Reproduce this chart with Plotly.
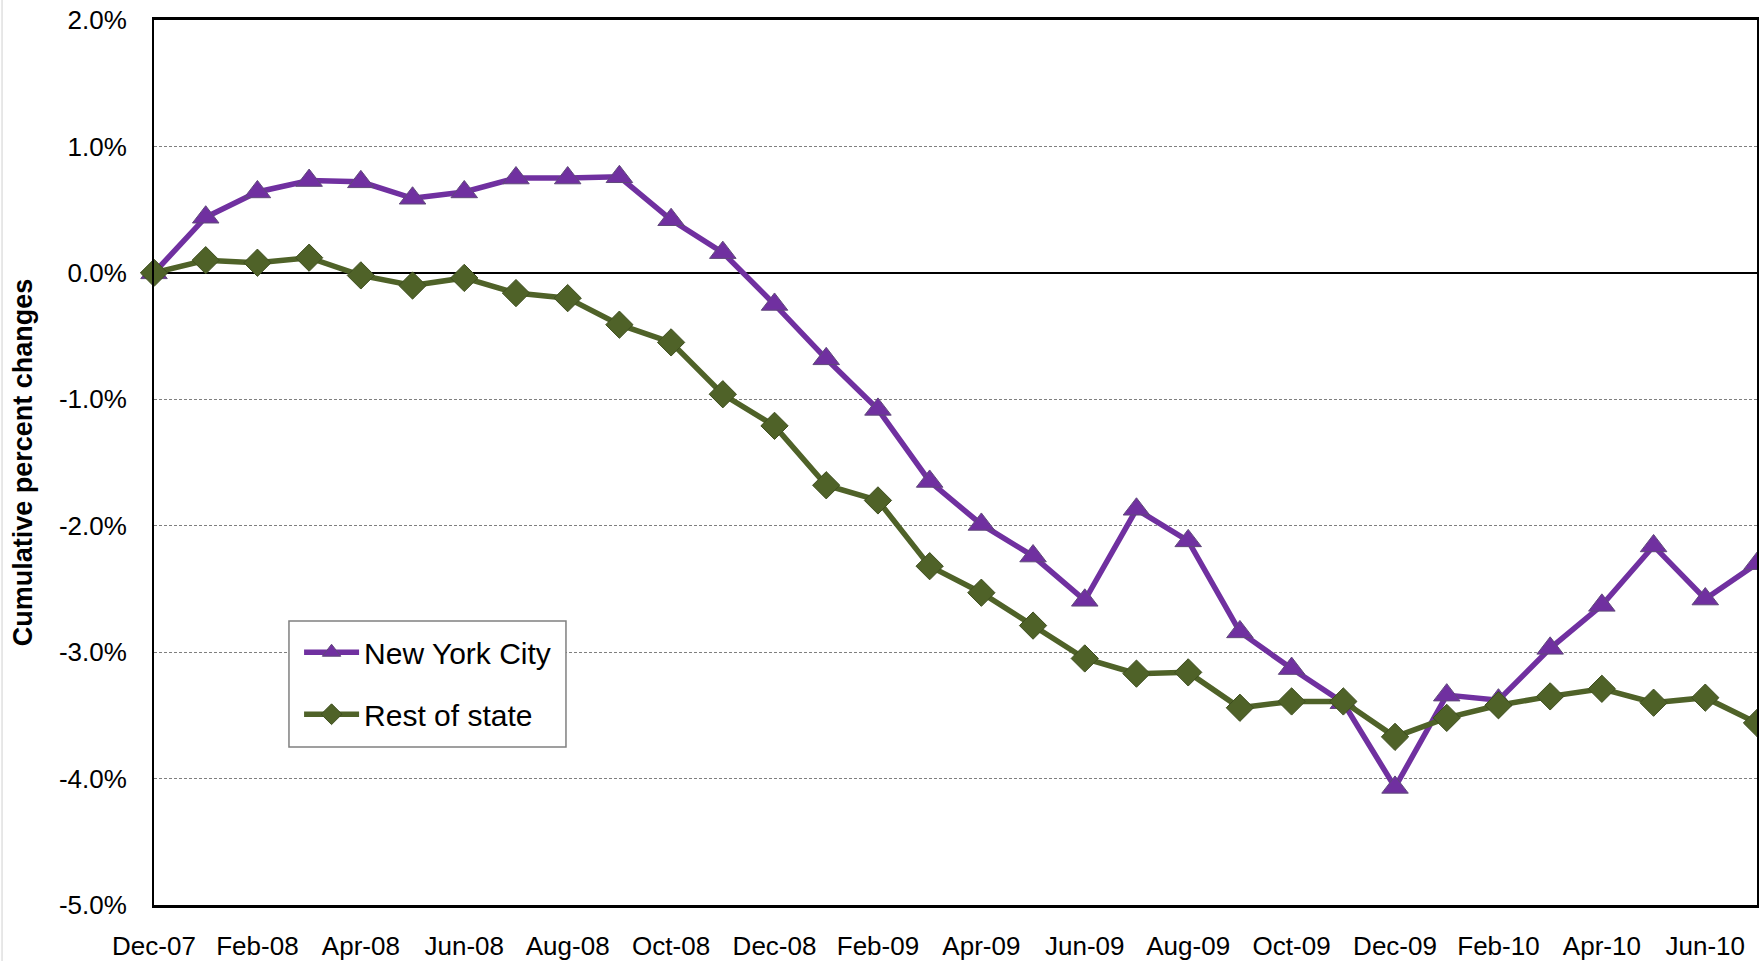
import plotly.graph_objects as go

months = ["Dec-07", "Jan-08", "Feb-08", "Mar-08", "Apr-08", "May-08", "Jun-08", "Jul-08",
          "Aug-08", "Sep-08", "Oct-08", "Nov-08", "Dec-08", "Jan-09", "Feb-09", "Mar-09",
          "Apr-09", "May-09", "Jun-09", "Jul-09", "Aug-09", "Sep-09", "Oct-09", "Nov-09",
          "Dec-09", "Jan-10", "Feb-10", "Mar-10", "Apr-10", "May-10", "Jun-10", "Jul-10"]

nyc = [0.00, 0.44, 0.64, 0.73, 0.72, 0.59, 0.64, 0.75, 0.75, 0.76, 0.42, 0.16,
       -0.25, -0.68, -1.08, -1.65, -1.99, -2.24, -2.59, -1.87, -2.12, -2.84,
       -3.13, -3.40, -4.07, -3.34, -3.38, -2.97, -2.63, -2.16, -2.58, -2.30]

rest_of_state = [0.00, 0.10, 0.08, 0.12, -0.02, -0.10, -0.04, -0.16, -0.20, -0.41, -0.55, -0.96,
                 -1.21, -1.68, -1.80, -2.32, -2.53, -2.79, -3.05, -3.17, -3.16, -3.44,
                 -3.39, -3.39, -3.67, -3.52, -3.42, -3.35, -3.29, -3.40, -3.36, -3.56]

x_tick_labels = months[::2]
y_tick_values = [-5, -4, -3, -2, -1, 0, 1, 2]
y_tick_labels = ["-5.0%", "-4.0%", "-3.0%", "-2.0%", "-1.0%", "0.0%", "1.0%", "2.0%"]

FONT = "Liberation Sans, Arial, sans-serif"
PURPLE = "#7030A0"
GREEN = "#4F6228"

x_idx = list(range(len(months)))

fig = go.Figure()
fig.add_trace(go.Scatter(
    x=x_idx, y=nyc, name="New York City", mode="lines+markers",
    line=dict(color=PURPLE, width=5.5),
    marker=dict(symbol="triangle-up", size=23, color=PURPLE,
                line=dict(color="#60497A", width=1)),
    cliponaxis=False, legendgroup="a",
))
fig.add_trace(go.Scatter(
    x=x_idx, y=rest_of_state, name="Rest of state", mode="lines+markers",
    line=dict(color=GREEN, width=5.5),
    marker=dict(symbol="diamond", size=21, color=GREEN,
                line=dict(color="#3F4F20", width=1)),
    cliponaxis=False, legendgroup="b",
))

# legend frame
fig.add_shape(type="rect", xref="paper", yref="paper",
              x0=0.0842, x1=0.257, y0=0.1785, y1=0.3209,
              line=dict(color="#808080", width=1.5), fillcolor="white", layer="above")
# faint outer chart border on the left edge
fig.add_shape(type="line", xref="paper", yref="paper",
              x0=-0.0948, x1=-0.0948, y0=-0.07, y1=1.03,
              line=dict(color="#e0e0e0", width=1.5), layer="above")

fig.update_layout(
    width=1759, height=961,
    margin=dict(l=154, r=2, t=20, b=56),
    paper_bgcolor="white", plot_bgcolor="white",
    font=dict(family=FONT, color="black", size=26),
    showlegend=True,
    legend=dict(
        x=0.0905, y=0.315, xanchor="left", yanchor="top",
        bgcolor="rgba(0,0,0,0)", borderwidth=0,
        font=dict(family=FONT, size=30, color="black"),
        tracegroupgap=20, itemwidth=55,
    ),
    xaxis=dict(
        range=[0, 31], tickmode="array",
        tickvals=x_idx[::2], ticktext=x_tick_labels,
        showgrid=False, zeroline=False, automargin=False,
        showline=True, linecolor="black", linewidth=3, mirror=True,
        ticks="", ticklabelstandoff=16,
        tickfont=dict(family=FONT, size=26),
    ),
    yaxis=dict(
        range=[-5, 2], tickmode="array",
        tickvals=y_tick_values, ticktext=y_tick_labels,
        showgrid=True, gridcolor="#7f7f7f", gridwidth=1, griddash="3px,2px",
        zeroline=True, zerolinecolor="black", zerolinewidth=1.5,
        showline=True, linecolor="black", linewidth=2, mirror=True,
        ticks="", ticklabelstandoff=20, automargin=False,
        tickfont=dict(family=FONT, size=26),
        title=dict(text="<b>Cumulative percent changes</b>",
                   font=dict(family=FONT, size=27), standoff=18),
    ),
)

fig.write_html(
    "out.html",
    config={"displayModeBar": False},
    post_script="document.body.style.margin='0';document.body.style.overflow='hidden';",
)
